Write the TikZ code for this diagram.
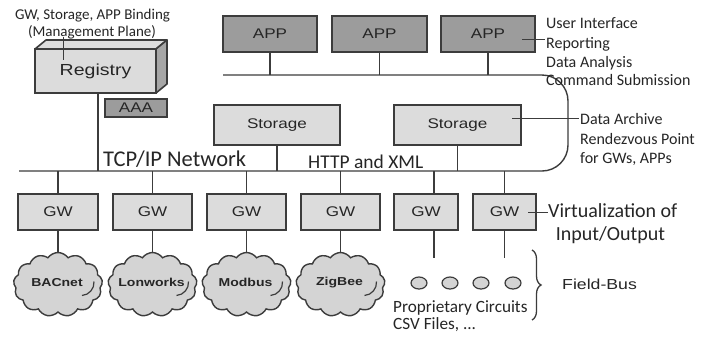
\documentclass[tikz,border=0pt]{standalone}
\usepackage{fontspec}
\setmainfont{Carlito}
\newfontfamily\arialf[FakeStretch=1.22]{Liberation Sans}
\usetikzlibrary{shapes.symbols,shapes.geometric,decorations.pathreplacing,calc}
\definecolor{ln}{HTML}{3C3C3C}
\definecolor{lightbox}{HTML}{DCDCDC}
\definecolor{darkbox}{HTML}{9C9C9C}
\definecolor{sidebox}{HTML}{A6A6A6}
\definecolor{cloudfill}{HTML}{D4D4D4}
\definecolor{txt}{HTML}{262626}
\begin{document}
\begin{tikzpicture}[x=1pt,y=-1pt,
  box/.style={draw=ln, line width=1.6pt, fill=lightbox, inner sep=0pt, font=\arialf\fontsize{14}{14}\selectfont, text=txt},
  dbox/.style={box, fill=darkbox},
  wire/.style={draw=ln, line width=1.4pt},
  thinline/.style={draw=ln, line width=0.9pt},
  note/.style={inner sep=0pt, font=\fontsize{15}{15}\selectfont, text=txt},
  rnote/.style={inner sep=0pt, font=\fontsize{16}{16}\selectfont, text=txt},
  bignote/.style={inner sep=0pt, font=\fontsize{20}{20}\selectfont, text=txt},
  cl/.style={cloud, cloud puffs=13, cloud puff arc=110, aspect=1.35, draw=ln, line width=1.4pt, fill=cloudfill, minimum width=89pt, minimum height=64pt, inner sep=0pt},
  cltext/.style={inner sep=0pt, font=\arialf\bfseries\fontsize{11.5}{11.5}\selectfont, text=txt},
  dot/.style={ellipse, draw=ln, line width=1.2pt, fill=cloudfill, minimum width=16pt, minimum height=12pt, inner sep=0pt},
]
\fill[white] (0,0) rectangle (706,341);
\useasboundingbox (0,0) rectangle (706,341);

% Registry (3D box)
\filldraw[fill=lightbox, draw=ln, line width=1.6pt, line join=round] (35,49) -- (46,40) -- (167,40) -- (156,49) -- cycle;
\filldraw[fill=sidebox, draw=ln, line width=1.6pt, line join=round] (156,49) -- (167,40) -- (167,84) -- (156,93) -- cycle;
\node[box, minimum width=121pt, minimum height=44pt, font=\arialf\fontsize{16}{16}\selectfont] (reg) at (95.5,71) {Registry};
\node[dbox, minimum width=62pt, minimum height=18pt] (aaa) at (136,108) {AAA};

% labels top-left
\node[note, anchor=base] (l1) at (92.5,19) {GW, Storage, APP Binding};
\node[note, anchor=base] (l2) at (92,36) {(Management Plane)};
\coordinate (m1) at (63,37);
\coordinate (m2) at (63,60);
\draw[thinline] (m1) -- (m2);

% APPs
\node[dbox, minimum width=94pt, minimum height=36pt] (app1) at (270,34) {APP};
\node[dbox, minimum width=95pt, minimum height=36pt] (app2) at (379.5,34) {APP};
\node[dbox, minimum width=94pt, minimum height=36pt] (app3) at (488,34) {APP};

% Storage
\node[box, minimum width=126pt, minimum height=40pt] (st1) at (277,125) {Storage};
\node[box, minimum width=127pt, minimum height=40pt] (st2) at (457.5,125) {Storage};

% network
\coordinate (busN) at (19,171);
\coordinate (busT) at (223,75);
\draw[wire, rounded corners=26pt] (busN) -- (568,171) -- (568,75) -- (busT);

\foreach \a in {app1,app2,app3} \draw[wire] (\a.south) -- (\a.south |- busT);
\coordinate (regdrop) at ($(reg.south)+(2.5,0)$);
\draw[wire] (regdrop) -- (regdrop |- busN);
\foreach \s in {st1,st2} \draw[wire] (\s.south) -- (\s.south |- busN);

% GWs
\node[box, minimum width=80pt, minimum height=36pt] (gw1) at (58,212) {GW};
\node[box, minimum width=79pt, minimum height=36pt] (gw2) at (152.5,212) {GW};
\node[box, minimum width=79pt, minimum height=36pt] (gw3) at (246.5,212) {GW};
\node[box, minimum width=79pt, minimum height=36pt] (gw4) at (340.5,212) {GW};
\node[box, minimum width=64pt, minimum height=36pt] (gw5) at (426,212) {GW};
\node[box, minimum width=63pt, minimum height=36pt] (gw6) at (504.5,212) {GW};

% clouds
\node[cl] (c1) at (58,284.5) {};
\node[cl] (c2) at (152.5,284.5) {};
\node[cl] (c3) at (246.5,284.5) {};
\node[cl] (c4) at (340.5,284.5) {};
\node[cltext] (t1) at ($(c1.center)+(-1,-2)$) {BACnet};
\node[cltext] (t2) at ($(c2.center)+(-1,-2)$) {Lonworks};
\node[cltext] (t3) at ($(c3.center)+(-1,-2)$) {Modbus};
\node[cltext] (t4) at ($(c4.center)+(-1,-2)$) {ZigBee};
\foreach \c in {c1,c2,c3,c4}
  \draw[ln, line width=1.2pt] ($(\c.center)+(36,-3)$) to[bend left=45] ($(\c.center)+(24,11)$);

\foreach \g/\c in {gw1/c1,gw2/c2,gw3/c3,gw4/c4} {
  \draw[wire] (\g.north) -- (\g.north |- busN);
  \draw[wire] (\g.south) -- (\g.south |- \c.north);
}
\coordinate (gw5t) at ($(gw5.north)+(8,0)$);
\coordinate (gw5b) at ($(gw5.south)+(8,0)$);
\coordinate (fbend) at (0,258);
\draw[wire] (gw5t) -- (gw5t |- busN);
\draw[wire] (gw6.north) -- (gw6.north |- busN);
\draw[wire] (gw5b) -- (gw5b |- fbend);
\draw[wire] (gw6.south) -- (gw6.south |- fbend);

% field bus dots
\node[dot] (d1) at (419,283) {};
\node[dot] (d2) at (450,283) {};
\node[dot] (d3) at (481,283) {};
\node[dot] (d4) at (513,283) {};

% network labels
\node[inner sep=0pt, font=\fontsize{22.5}{22.5}\selectfont, text=txt, anchor=base west] (tcp) at (103,166) {TCP/IP Network};
\node[inner sep=0pt, font=\fontsize{19.5}{19.5}\selectfont, text=txt, anchor=base west] (http) at (308,168) {HTTP and XML};

% APP notes
\node[rnote, anchor=base west] (n1) at (546,28) {User Interface};
\node[rnote, anchor=base west] (n2) at (546,48) {Reporting};
\node[rnote, anchor=base west] (n3) at (546,67) {Data Analysis};
\node[rnote, anchor=base west] (n4) at (546,85) {Command Submission};
\coordinate (pa) at (522,39);
\coordinate (pb) at (545,39);
\draw[thinline] (pa) -- (pb);

% storage notes
\node[rnote, anchor=base west] (s1) at (580,124) {Data Archive};
\node[rnote, anchor=base west] (s2) at (580,144) {Rendezvous Point};
\node[rnote, anchor=base west] (s3) at (580,163) {for GWs, APPs};
\coordinate (sa) at (512,118);
\coordinate (sb) at (579,118);
\draw[thinline] (sa) -- (sb);

% GW notes
\node[bignote, anchor=base west] (v1) at (548,217) {Virtualization of};
\node[bignote, anchor=base] (v2) at (610.5,240) {Input/Output};
\coordinate (va) at (528,212);
\coordinate (vb) at (548,212);
\draw[thinline] (va) -- (vb);

% field bus notes
\node[inner sep=0pt, font=\fontsize{17.2}{17.2}\selectfont, text=txt, anchor=base west] (pc) at (393,312) {Proprietary Circuits};
\node[inner sep=0pt, font=\fontsize{17.2}{17.2}\selectfont, text=txt, anchor=base west] (csv) at (393,329) {CSV Files, ...};
\coordinate (bt) at (532,250);
\coordinate (bb) at (532,320);
\draw[thinline, line width=1.3pt, decorate, decoration={brace, amplitude=9pt}] (bt) -- (bb);
\node[inner sep=0pt, font=\arialf\fontsize{14.5}{14.5}\selectfont, text=txt, anchor=base west] (fb) at (562,289) {Field-Bus};
\end{tikzpicture}
\end{document}
